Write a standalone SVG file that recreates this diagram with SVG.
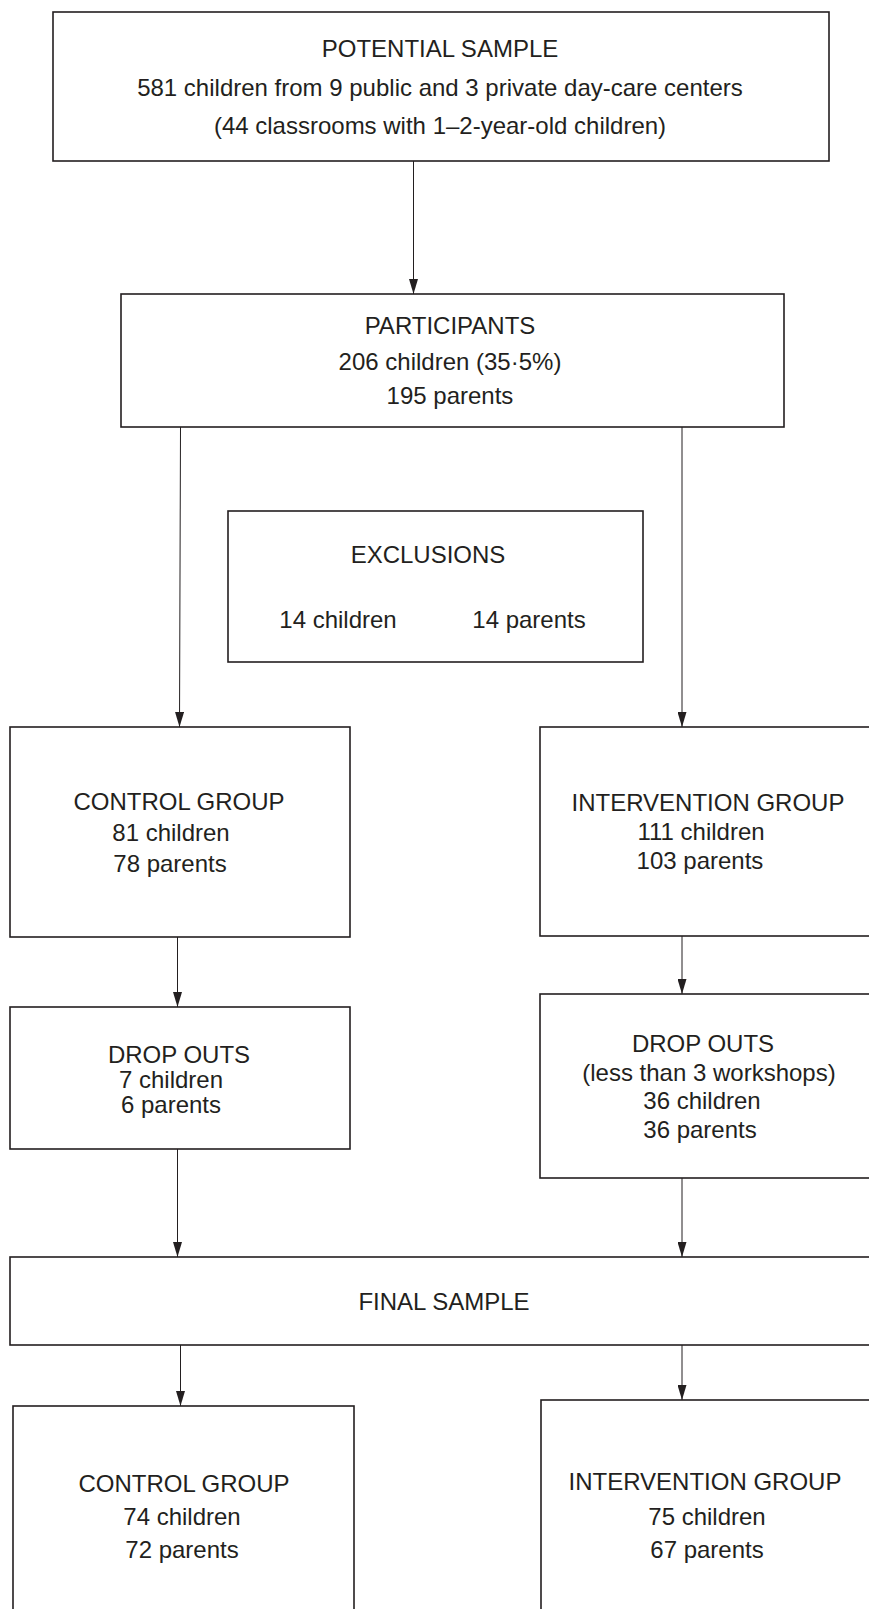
<svg xmlns="http://www.w3.org/2000/svg" width="869" height="1609" viewBox="0 0 869 1609">
<style>
.box{fill:#fff;stroke:#231f20;stroke-width:1.6}
.t{font-family:"Liberation Sans",Arial,sans-serif;font-size:24px;fill:#231f20;text-anchor:middle}
.c{stroke:#231f20;stroke-width:1;fill:none;marker-end:url(#ah)}
</style>
<defs>
<marker id="ah" viewBox="0 0 15 9" refX="15" refY="4.5" markerWidth="15" markerHeight="9" markerUnits="userSpaceOnUse" orient="auto">
<path d="M0,0 L15,4.5 L0,9 Z" fill="#231f20"/>
</marker>
</defs>
<rect width="869" height="1609" fill="#fff"/>
<g id="connectors">
<line class="c" x1="413.5" y1="161" x2="413.5" y2="294"/>
<line class="c" x1="180.5" y1="427" x2="179.5" y2="727"/>
<line class="c" x1="682" y1="427" x2="682" y2="727"/>
<line class="c" x1="177.5" y1="937" x2="177.5" y2="1007"/>
<line class="c" x1="682" y1="936" x2="682" y2="994"/>
<line class="c" x1="177.5" y1="1149" x2="177.5" y2="1257"/>
<line class="c" x1="682" y1="1178" x2="682" y2="1257"/>
<line class="c" x1="180.5" y1="1345" x2="180.5" y2="1406"/>
<line class="c" x1="682" y1="1345" x2="682" y2="1400"/>
</g>
<g id="potential">
<rect class="box" x="53" y="12" width="776" height="149"/>
<text class="t" x="440" y="57">POTENTIAL SAMPLE</text>
<text class="t" x="440" y="96">581 children from 9 public and 3 private day-care centers</text>
<text class="t" x="440" y="134">(44 classrooms with 1–2-year-old children)</text>
</g>
<g id="participants">
<rect class="box" x="121" y="294" width="663" height="133"/>
<text class="t" x="450" y="334">PARTICIPANTS</text>
<text class="t" x="450" y="370">206 children (35·5%)</text>
<text class="t" x="450" y="404">195 parents</text>
</g>
<g id="exclusions">
<rect class="box" x="228" y="511" width="415" height="151"/>
<text class="t" x="428" y="563">EXCLUSIONS</text>
<text class="t" x="338" y="628">14 children</text>
<text class="t" x="529" y="628">14 parents</text>
</g>
<g id="control1">
<rect class="box" x="10" y="727" width="340" height="210"/>
<text class="t" x="179" y="810">CONTROL GROUP</text>
<text class="t" x="171" y="841">81 children</text>
<text class="t" x="170" y="872">78 parents</text>
</g>
<g id="intervention1">
<rect class="box" x="540" y="727" width="340" height="209"/>
<text class="t" x="708" y="811">INTERVENTION GROUP</text>
<text class="t" x="701" y="840">111 children</text>
<text class="t" x="700" y="869">103 parents</text>
</g>
<g id="dropouts1">
<rect class="box" x="10" y="1007" width="340" height="142"/>
<text class="t" x="179" y="1063">DROP OUTS</text>
<text class="t" x="171" y="1088">7 children</text>
<text class="t" x="171" y="1113">6 parents</text>
</g>
<g id="dropouts2">
<rect class="box" x="540" y="994" width="340" height="184"/>
<text class="t" x="703" y="1052">DROP OUTS</text>
<text class="t" x="709" y="1081">(less than 3 workshops)</text>
<text class="t" x="702" y="1109">36 children</text>
<text class="t" x="700" y="1138">36 parents</text>
</g>
<g id="final">
<rect class="box" x="10" y="1257" width="870" height="88"/>
<text class="t" x="444" y="1310">FINAL SAMPLE</text>
</g>
<g id="control2">
<rect class="box" x="13" y="1406" width="341" height="210"/>
<text class="t" x="184" y="1492">CONTROL GROUP</text>
<text class="t" x="182" y="1525">74 children</text>
<text class="t" x="182" y="1558">72 parents</text>
</g>
<g id="intervention2">
<rect class="box" x="541" y="1400" width="340" height="216"/>
<text class="t" x="705" y="1490">INTERVENTION GROUP</text>
<text class="t" x="707" y="1525">75 children</text>
<text class="t" x="707" y="1558">67 parents</text>
</g>
</svg>
